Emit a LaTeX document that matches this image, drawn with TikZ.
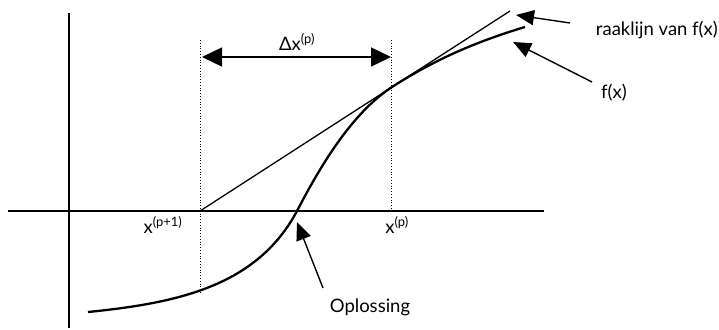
\documentclass[tikz,border=0pt]{standalone}
\usepackage{fontspec}
\setmainfont{Lato}
\usetikzlibrary{arrows.meta}
\begin{document}
\begin{tikzpicture}[x=1pt,y=-1pt,
  axisline/.style={line width=1.6pt},
  fcurve/.style={line width=2.3pt},
  tanline/.style={line width=1.3pt},
  guide/.style={dotted, line width=0.8pt},
  pointer/.style={line width=1.4pt, -{Triangle[length=18pt,width=15pt]}},
  dbl/.style={line width=1.4pt, {Triangle[length=20pt,width=19pt]}-{Triangle[length=20pt,width=19pt]}},
  lbl/.style={font=\fontsize{18.5}{20}\selectfont, inner sep=0pt}]
\useasboundingbox (0,0) rectangle (719,329);
% axes
\coordinate (yt) at (69,13);
\coordinate (yb) at (69,328);
\coordinate (xl) at (8,211);
\coordinate (xr) at (544,211);
\draw[axisline] (yt) -- (yb);
\draw[axisline] (xl) -- (xr);
% points
\coordinate (xp1) at (200,211);
\coordinate (tp) at (392,87);
\coordinate (sol) at (297,211);
\coordinate (tanend) at (510,11);
% guides
\coordinate (g1t) at (200,40);
\coordinate (g1b) at (200,293);
\coordinate (g2t) at (391,40);
\coordinate (g2b) at (391,211);
\draw[guide] (g1t) -- (g1b);
\draw[guide] (g2t) -- (g2b);
% tangent
\draw[tanline] (xp1) -- (tp) -- (tanend);
% curve
\coordinate (c0) at (88,312);
\coordinate (c3) at (525,27);
\draw[fcurve] (c0) .. controls (178,303) and (257,286) .. (sol)
  .. controls (327,153) and (357,110) .. (tp)
  .. controls (437,58) and (480,40.5) .. (c3);
% delta arrow
\coordinate (da) at (202,57);
\coordinate (db) at (391,57);
\draw[dbl] (da) -- (db);
\node[lbl] (dl) at (297,42) {Δx\textsuperscript{(p)}};
% labels
\node[lbl] (lxp1) at (163,225) {x\textsuperscript{(p+1)}};
\node[lbl] (lxp) at (397,225) {x\textsuperscript{(p)}};
\node[lbl] (lsol) at (370,307) {Oplossing};
\node[lbl] (lf) at (614,93) {f(x)};
\node[lbl, anchor=east] (lrk) at (718,30) {raaklijn van f(x)};
% pointers
\coordinate (rkt) at (570,23);
\coordinate (rkh) at (516,15);
\draw[pointer] (rkt) -- (rkh);
\coordinate (ft) at (592,82);
\coordinate (fh) at (513,42);
\draw[pointer] (ft) -- (fh);
\coordinate (st) at (323,288);
\coordinate (sh) at (297,222);
\draw[pointer] (st) -- (sh);
\end{tikzpicture}
\end{document}
